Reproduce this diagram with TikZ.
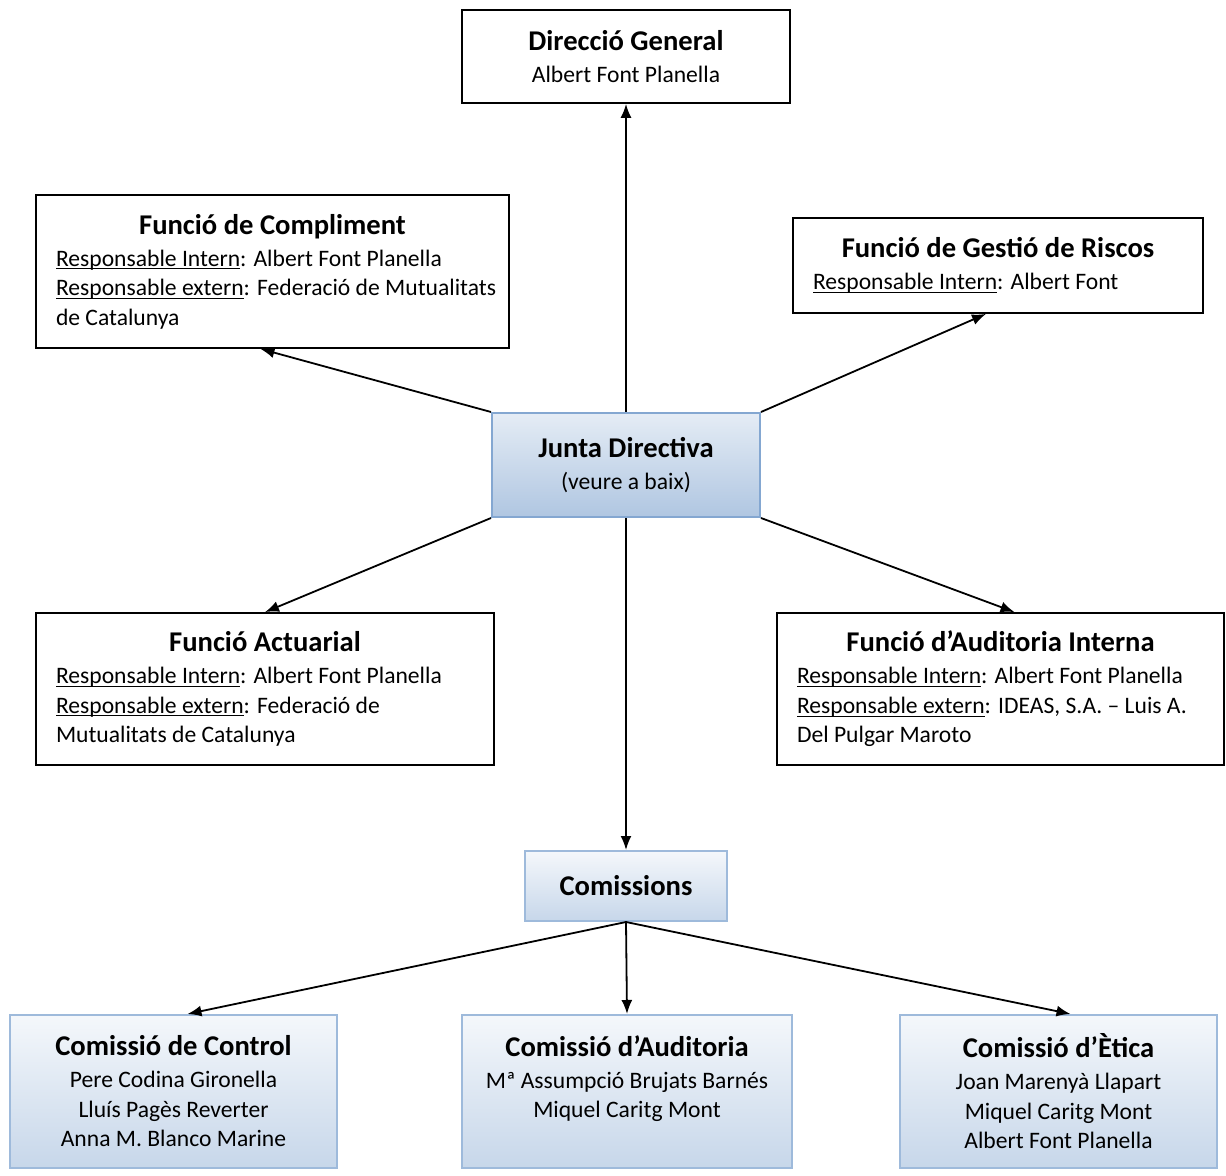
\documentclass[tikz,border=0pt]{standalone}
\usepackage{fontspec}
\setmainfont{Carlito}
\usepackage{tikz}
\usetikzlibrary{arrows.meta, positioning}
\definecolor{boxblue}{RGB}{79,129,189}
\newcommand{\titol}[1]{{\centering\fontsize{14.3}{17}\selectfont\bfseries #1\par}\vspace{1.25pt}}
\newcommand{\capt}[1]{{\fontsize{14.3}{17}\selectfont\bfseries #1}}
\newcommand{\subr}[1]{\leavevmode\setbox0\hbox{#1}\rlap{\rule[-1.6pt]{\wd0}{0.5pt}}\box0}

\begin{document}
\begin{tikzpicture}[x=0.5pt, y=-0.5pt,
    funcio/.style={draw, line width=0.9pt, align=flush left, inner xsep=10pt,
                   font=\fontsize{11.8}{14.75}\selectfont},
    capbox/.style={draw, line width=0.9pt, align=center,
                   font=\fontsize{11.8}{14.75}\selectfont},
    junta/.style={draw=boxblue!70, line width=1pt, top color=boxblue!15,
                  bottom color=boxblue!45, align=center,
                  font=\fontsize{11.8}{14.75}\selectfont},
    comissio/.style={draw=boxblue!55, line width=1pt, top color=boxblue!6,
                     bottom color=boxblue!32, align=center,
                     font=\fontsize{11.8}{14.75}\selectfont},
    arr/.style={-{Latex[length=7pt,width=5.5pt]}, line width=0.9pt}
]
    \useasboundingbox (0,0) rectangle (1226,1176);

    % top
    \node[capbox, minimum width=164pt, minimum height=46.5pt] (direccio) at (626,56.5)
        {\capt{Direcció General}\\[1.25pt] Albert Font Planella};
    \node[funcio, text width=216.5pt, minimum height=76.5pt] (compliment) at (272.5,271.5)
        {\titol{Funció de Compliment}
         \subr{Responsable Intern}: Albert Font Planella\\
         \mbox{\subr{Responsable extern}: Federació de Mutualitats}\\
         de Catalunya};
    \node[funcio, text width=185pt, minimum height=47.5pt] (gestio) at (998,265.5)
        {\titol{Funció de Gestió de Riscos}
         \subr{Responsable Intern}: Albert Font};

    % centre
    \node[junta, minimum width=134pt, minimum height=52pt] (junta) at (626,465)
        {\capt{Junta Directiva}\\[1.25pt] (veure a baix)};

    \node[funcio, text width=209pt, minimum height=76pt] (actuarial) at (265,689)
        {\titol{Funció Actuarial}
         \subr{Responsable Intern}: Albert Font Planella\\
         \subr{Responsable extern}: Federació de\\
         Mutualitats de Catalunya};
    \node[funcio, text width=203.5pt, minimum height=76pt] (auditint) at (1000.5,689)
        {\titol{Funció d’Auditoria Interna}
         \subr{Responsable Intern}: Albert Font Planella\\
         \subr{Responsable extern}: IDEAS, S.A. – Luis A.\\
         Del Pulgar Maroto};

    % comissions
    \node[comissio, minimum width=101pt, minimum height=35pt] (comissions) at (626,886)
        {\capt{Comissions}};
    \node[comissio, minimum width=163.5pt, minimum height=76.5pt] (control) at (173.5,1091.5)
        {\capt{Comissió de Control}\\[1.25pt]
         Pere Codina Gironella\\ Lluís Pagès Reverter\\ Anna M. Blanco Marine};
    \node[comissio, minimum width=165pt, minimum height=76.5pt, text depth=14.75pt] (comaud) at (627,1091.5)
        {\capt{Comissió d’Auditoria}\\[1.25pt]
         Mª Assumpció Brujats Barnés\\ Miquel Caritg Mont};
    \node[comissio, minimum width=158.5pt, minimum height=76.5pt] (etica) at (1058.5,1091.5)
        {\capt{Comissió d’Ètica}\\[1.25pt]
         Joan Marenyà Llapart\\ Miquel Caritg Mont\\ Albert Font Planella};

    % arrows
    \draw[arr] (junta.north) -- (direccio.south);
    \draw[arr] (junta.north west) -- ([xshift=-6pt]compliment.south);
    \draw[arr] (junta.north east) -- ([xshift=-6pt]gestio.south);
    \draw[arr] (junta.south west) -- (actuarial.north);
    \draw[arr] (junta.south east) -- ([xshift=7pt]auditint.north);
    \draw[arr] (junta.south) -- (comissions.north);
    \draw[arr] (comissions.south) -- ([xshift=7pt]control.north);
    \draw[arr] (comissions.south) -- (comaud.north);
    \draw[arr] (comissions.south) -- ([xshift=6pt]etica.north);
\end{tikzpicture}
\end{document}
